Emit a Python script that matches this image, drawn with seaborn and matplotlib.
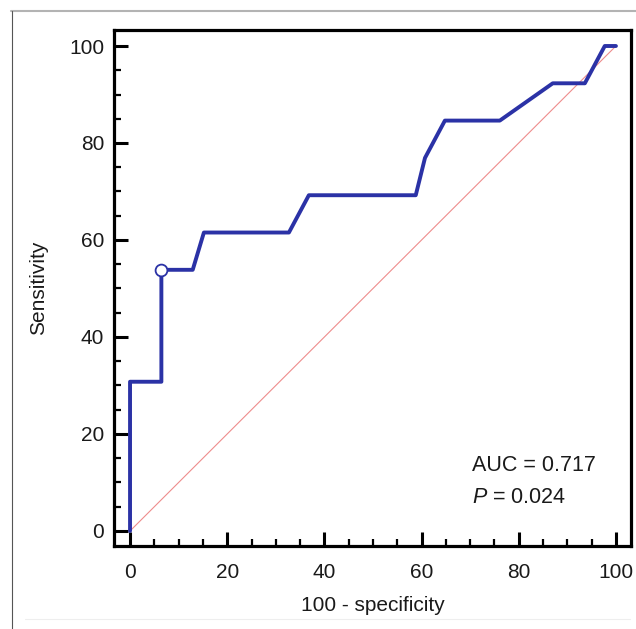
import numpy as np
import pandas as pd
import matplotlib
matplotlib.use("Agg")
import matplotlib.pyplot as plt
from matplotlib.lines import Line2D
import seaborn as sns

# ROC curve data (100 - specificity, sensitivity)
fpr = [0, 0, 6.45, 6.45, 12.9, 15.2, 32.7, 36.8, 58.8, 60.7, 64.8, 76.1, 87.0, 93.6, 97.7, 100]
tpr = [0, 30.77, 30.77, 53.85, 53.85, 61.54, 61.54, 69.23, 69.23, 76.92, 84.62, 84.62, 92.31, 92.31, 100, 100]
diag_x = [0, 100]
diag_y = [0, 100]
cutoff_x = [6.45]
cutoff_y = [53.85]
ticks = [0, 20, 40, 60, 80, 100]
auc_text = "AUC = 0.717"
p_text = r"$\mathit{P}$ = 0.024"

sns.set_style("white")
plt.rcParams['font.family'] = ['Liberation Sans', 'DejaVu Sans']
plt.rcParams['mathtext.fontset'] = 'custom'
plt.rcParams['mathtext.rm'] = 'Liberation Sans'
plt.rcParams['mathtext.it'] = 'Liberation Sans:italic'
plt.rcParams['text.color'] = '#1a1a1a'
plt.rcParams['axes.labelcolor'] = '#1a1a1a'

fig = plt.figure(figsize=(6.36, 6.29), dpi=100)
ax = fig.add_axes([114/636, 1-546/629, (631-114)/636, (546-30)/629])

roc = pd.DataFrame({"fpr": fpr, "tpr": tpr})
diag = pd.DataFrame({"x": diag_x, "y": diag_y})

sns.lineplot(data=diag, x="x", y="y", ax=ax, color="#EE8C8C", lw=0.8,
             sort=False, estimator=None)
sns.lineplot(data=roc, x="fpr", y="tpr", ax=ax, color="#2B32A6", lw=2.8,
             sort=False, estimator=None)
ax.plot(cutoff_x, cutoff_y, marker='o', ms=8.5, mfc='white', mec='#2B32A6',
        mew=1.3, ls='none', zorder=5)

ax.set_xlim(-3.3, 103.1)
ax.set_ylim(-3.1, 103.3)
ax.set_xticks(ticks)
ax.set_yticks(ticks)
ax.set_xticks(np.arange(0, 101, 5), minor=True)
ax.set_yticks(np.arange(0, 101, 5), minor=True)
ax.tick_params(which='both', bottom=True, left=True, top=False, right=False,
               direction='in', color='black')
ax.tick_params(which='major', length=10, width=2.2, labelsize=15,
               labelcolor='#1a1a1a')
ax.tick_params(axis='y', which='major', pad=7)
ax.tick_params(axis='x', which='major', pad=12)
ax.tick_params(which='minor', length=5, width=1.6)
for s in ax.spines.values():
    s.set_visible(True)
    s.set_linewidth(2.3)
    s.set_color('black')

ax.set_xlabel("100 - specificity", fontsize=15)
ax.set_ylabel("Sensitivity", fontsize=15)
ax.xaxis.set_label_coords(0.5, -0.097)
ax.yaxis.set_label_coords(-0.127, 0.5)

ax.text(70.4, 13.4, auc_text, fontsize=15.5, va='center', ha='left')
ax.text(70.4, 6.8, p_text, fontsize=15.5, va='center', ha='left')

# screenshot frame lines
fig.add_artist(Line2D([11/636, 1], [1-11/629, 1-11/629], color='#b3b3b3', lw=1.5))
fig.add_artist(Line2D([12/636, 12/636], [0, 1-11/629], color='#555555', lw=0.8))
fig.add_artist(Line2D([25/636, 630/636], [1-619/629, 1-619/629], color='#eeeeee', lw=0.8))

fig.savefig("out.png", dpi=100)
